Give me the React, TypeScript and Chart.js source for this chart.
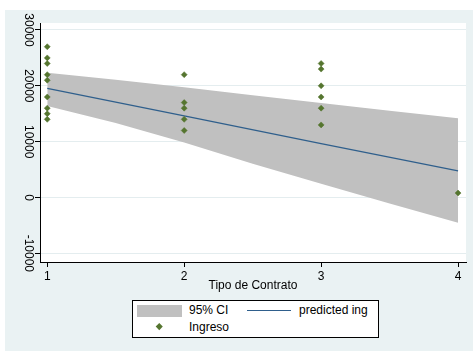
import React, { useEffect, useRef } from 'react';
import { Chart, registerables } from 'chart.js';

Chart.register(...registerables);

const xTicks = [1, 2, 3, 4];
const yTicks = [-10000, 0, 10000, 20000, 30000];

const ingresoX = [1, 1, 1, 1, 1, 1, 1, 1, 1, 2, 2, 2, 2, 2, 3, 3, 3, 3, 3, 3, 4];
const ingresoY = [
  27000, 25000, 24000, 22000, 21000, 18000, 16000, 15000, 14000,
  22000, 17000, 16000, 14000, 12000,
  24000, 23000, 20000, 18000, 16000, 13000,
  800,
];

const predX = [1, 2, 3, 4];
const predY = [19560, 14600, 9650, 4750];

const ciX = [1, 1.5, 2, 2.5, 3, 3.5, 4];
const ciUpper = [22350, 21100, 19740, 18320, 16930, 15550, 14190];
const ciLower = [16390, 13330, 9870, 6040, 2470, -1070, -4510];

const FONT = "'Liberation Sans', Arial, sans-serif";
const BG = '#eaf2f3';
const BAND = '#c0c0c0';
const NAVY = '#2f5f8c';
const GREEN = '#55752f';

const bgPlugin = {
  id: 'bgPlugin',
  beforeDraw(chart: any) {
    const { ctx, chartArea } = chart;
    ctx.save();
    ctx.fillStyle = '#ffffff';
    ctx.fillRect(0, 0, chart.width, chart.height);
    ctx.fillStyle = BG;
    ctx.fillRect(5, 10, chart.width - 5, chart.height - 10);
    ctx.fillStyle = '#ffffff';
    ctx.fillRect(chartArea.left, chartArea.top, chartArea.right - chartArea.left, chartArea.bottom - chartArea.top);
    ctx.restore();
  },
};

export default function App() {
  const ref = useRef<HTMLCanvasElement | null>(null);

  useEffect(() => {
    if (!ref.current) return;
    const chart = new Chart(ref.current, {
      type: 'line',
      data: {
        datasets: [
          {
            label: 'Ingreso',
            data: ingresoX.map((x, i) => ({ x, y: ingresoY[i] })),
            showLine: false,
            pointStyle: 'rectRot',
            pointRadius: 3,
            pointBackgroundColor: GREEN,
            pointBorderColor: GREEN,
            pointBorderWidth: 0.5,
            order: 0,
          },
          {
            label: 'predicted ing',
            data: predX.map((x, i) => ({ x, y: predY[i] })),
            borderColor: NAVY,
            borderWidth: 1.3,
            pointRadius: 0,
            fill: false,
            order: 1,
          },
          {
            label: 'upper',
            data: ciX.map((x, i) => ({ x, y: ciUpper[i] })),
            borderWidth: 0,
            borderColor: 'rgba(0,0,0,0)',
            pointRadius: 0,
            fill: false,
            order: 3,
          },
          {
            label: '95% CI',
            data: ciX.map((x, i) => ({ x, y: ciLower[i] })),
            borderWidth: 0,
            borderColor: 'rgba(0,0,0,0)',
            backgroundColor: BAND,
            pointRadius: 0,
            fill: '-1',
            order: 2,
          },
        ],
      },
      options: {
        animation: false,
        responsive: false,
        maintainAspectRatio: false,
        layout: { padding: { left: 0, top: 23, right: 7, bottom: 0 } },
        plugins: { legend: { display: false }, tooltip: { enabled: false } },
        scales: {
          x: {
            type: 'linear',
            min: 0.947,
            max: 4.058,
            afterBuildTicks: (s: any) => {
              s.ticks = xTicks.map((v) => ({ value: v }));
            },
            afterFit: (s: any) => {
              s.height = 89;
            },
            ticks: {
              font: { family: FONT, size: 12 },
              color: '#000',
              padding: 2,
              callback: (v: any) => String(v),
            },
            grid: { drawOnChartArea: false, tickLength: 5, tickColor: '#000', tickWidth: 1 },
            border: { color: '#000', width: 1 },
            title: {
              display: true,
              text: 'Tipo de Contrato',
              font: { family: FONT, size: 12 },
              color: '#000',
              padding: { top: 0, bottom: 58 },
            },
          },
          y: {
            type: 'linear',
            min: -11550,
            max: 31250,
            afterBuildTicks: (s: any) => {
              s.ticks = yTicks.map((v) => ({ value: v }));
            },
            afterFit: (s: any) => {
              s.width = 40;
            },
            ticks: {
              font: { family: FONT, size: 12 },
              color: '#000',
              minRotation: -90,
              maxRotation: -90,
              crossAlign: 'center',
              padding: -11.7,
              autoSkip: false,
              callback: (v: any) => String(v),
            },
            grid: { color: '#e4edef', lineWidth: 1, tickLength: 5, tickColor: '#000', tickWidth: 1 },
            border: { color: '#000', width: 1 },
          },
        },
      } as any,
      plugins: [bgPlugin],
    });
    return () => chart.destroy();
  }, []);

  const txt: React.CSSProperties = {
    position: 'absolute',
    fontFamily: FONT,
    fontSize: 12,
    lineHeight: '14px',
    color: '#000',
    whiteSpace: 'nowrap',
  };

  return (
    <div style={{ position: 'fixed', left: 0, top: 0, width: 473, height: 351, background: '#fff' }}>
      <canvas ref={ref} width={473} height={351} style={{ position: 'absolute', left: 0, top: 0, width: 473, height: 351 }} />
      <div
        style={{
          position: 'absolute',
          left: 132,
          top: 300,
          width: 247,
          height: 38,
          boxSizing: 'border-box',
          border: '1px solid #000',
          background: '#fff',
        }}
      >
        <div style={{ position: 'absolute', left: 4, top: 4, width: 45, height: 12, background: BAND }} />
        <div style={{ ...txt, left: 56, top: 2 }}>95% CI</div>
        <div style={{ position: 'absolute', left: 114, top: 9, width: 44, height: 1.3, background: NAVY }} />
        <div style={{ ...txt, left: 166, top: 2 }}>predicted ing</div>
        <div
          style={{
            position: 'absolute',
            left: 23.5,
            top: 23,
            width: 4.5,
            height: 4.5,
            background: GREEN,
            transform: 'rotate(45deg)',
          }}
        />
        <div style={{ ...txt, left: 56, top: 19 }}>Ingreso</div>
      </div>
    </div>
  );
}
